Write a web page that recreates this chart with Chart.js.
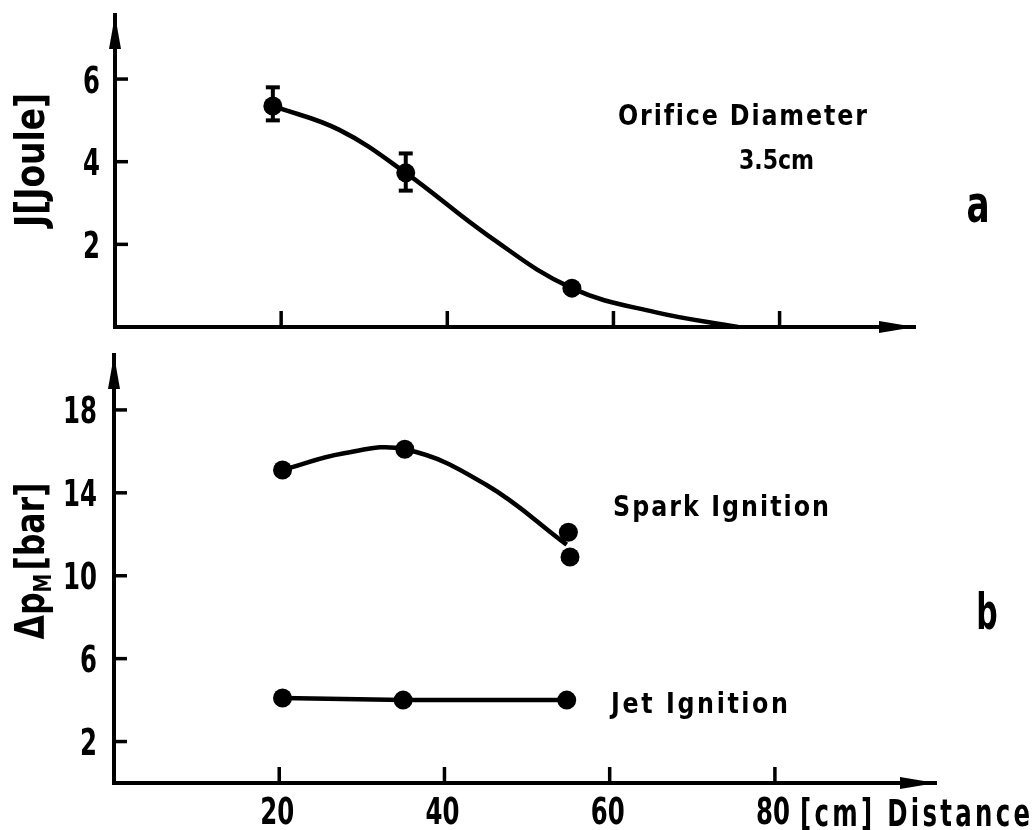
<!DOCTYPE html>
<html>
<head>
<meta charset="utf-8">
<script src="https://cdn.jsdelivr.net/npm/chart.js@4/dist/chart.umd.min.js"></script>
<style>
  body { margin: 0; background: #fff; }
  #wrap { position: relative; width: 1033px; height: 830px; }
  canvas { position: absolute; left: 0; }
  #chartA { top: 0; }
  #chartB { top: 345px; }
</style>
</head>
<body>
<div id="wrap">
  <canvas id="chartA" width="1033" height="345"></canvas>
  <canvas id="chartB" width="1033" height="485"></canvas>
</div>
<script>
// panel a: ignition energy against distance
const energyDist = [19, 35, 55];
const energyJ = [5.35, 3.73, 0.94];
const energyErrLow = [5.0, 3.3, null];
const energyErrHigh = [5.8, 4.2, null];
// hand drawn fit curve
const energyCurveDist = [19, 27, 35, 45, 55, 65, 75];
const energyCurveJ = [5.35, 4.77, 3.73, 2.2, 0.94, 0.36, 0];

// panel b: peak pressure against distance
const sparkDist = [20.4, 35.2, 55, 55.2];
const sparkP = [15.1, 16.1, 12.1, 10.9];
const sparkCurveDist = [20.4, 27.7, 35.2, 45, 54.8];
const sparkCurveP = [15.1, 15.9, 16.1, 14.4, 11.5];
const jetDist = [20.4, 35, 54.8];
const jetP = [4.1, 4.0, 4.0];

// tick labels
const distTicks = [20, 40, 60, 80];
const jTicks = [2, 4, 6];
const pTicks = [2, 6, 10, 14, 18];

const INK = '#000';
const FONT = "'DejaVu Sans', sans-serif";

function pts(xs, ys) {
  return xs.map((v, i) => ({ x: v, y: ys[i] }));
}

// narrow bold text; align 'left' | 'center' | 'right', centred on cap height
function narrowText(ctx, text, x, yMid, size, sx, align, width) {
  ctx.save();
  ctx.font = `bold ${size}px ${FONT}`;
  ctx.textBaseline = 'alphabetic';
  ctx.textAlign = align || 'left';
  ctx.translate(x, yMid + size * 0.365);
  ctx.scale(sx, 1);
  if (width) {
    const natural = ctx.measureText(text).width;
    const sp = (width / sx - natural) / Math.max(1, text.length - 1);
    ctx.letterSpacing = sp + 'px';
  }
  ctx.fillText(text, 0, 0);
  ctx.restore();
}

// inward tick marks, tick labels and arrow heads on both axes
function axisDecor(showXLabels, yLabelRight) {
  return {
    id: 'axisDecor',
    afterDraw(chart) {
      const { ctx, chartArea: a, scales: { x, y } } = chart;
      ctx.save();
      ctx.strokeStyle = INK;
      ctx.fillStyle = INK;
      ctx.lineWidth = 3.5;
      x.ticks.forEach(t => {
        const px = x.getPixelForValue(t.value);
        ctx.beginPath(); ctx.moveTo(px, a.bottom); ctx.lineTo(px, a.bottom - 16); ctx.stroke();
        if (showXLabels) narrowText(ctx, String(t.value), px - 2, a.bottom + 27, 37, 0.66, 'center');
      });
      y.ticks.forEach(t => {
        const py = y.getPixelForValue(t.value);
        ctx.beginPath(); ctx.moveTo(a.left, py); ctx.lineTo(a.left + 13, py); ctx.stroke();
        narrowText(ctx, String(t.value), yLabelRight, py, 37, 0.66, 'right');
      });
      // arrow up
      ctx.beginPath();
      ctx.moveTo(a.left, a.top);
      ctx.lineTo(a.left + 6, a.top + 34);
      ctx.lineTo(a.left - 6, a.top + 34);
      ctx.closePath(); ctx.fill();
      // arrow right
      ctx.beginPath();
      ctx.moveTo(a.right, a.bottom);
      ctx.lineTo(a.right - 36, a.bottom - 6);
      ctx.lineTo(a.right - 36, a.bottom + 6);
      ctx.closePath(); ctx.fill();
      ctx.restore();
    }
  };
}

const panelA = {
  id: 'panelA',
  afterDatasetsDraw(chart) {
    const { ctx, scales: { x, y } } = chart;
    ctx.save();
    ctx.strokeStyle = INK;
    ctx.lineWidth = 4;
    energyDist.forEach((d, i) => {
      if (energyErrLow[i] == null) return;
      const px = x.getPixelForValue(d);
      const hi = y.getPixelForValue(energyErrHigh[i]);
      const lo = y.getPixelForValue(energyErrLow[i]);
      ctx.beginPath(); ctx.moveTo(px, hi); ctx.lineTo(px, lo); ctx.stroke();
      ctx.beginPath(); ctx.moveTo(px - 7, hi); ctx.lineTo(px + 7, hi); ctx.stroke();
      ctx.beginPath(); ctx.moveTo(px - 7, lo); ctx.lineTo(px + 7, lo); ctx.stroke();
    });
    ctx.restore();
  },
  afterDraw(chart) {
    const ctx = chart.ctx;
    ctx.save();
    ctx.fillStyle = INK;
    narrowText(ctx, 'Orifice Diameter', 618, 115, 28, 0.85, 'left', 248);
    narrowText(ctx, '3.5cm', 739, 160, 26, 0.85, 'left', 75);
    narrowText(ctx, 'a', 978, 203, 52, 0.66, 'center');
    // y title, squeezed to its length
    ctx.translate(29, 160);
    ctx.rotate(-Math.PI / 2);
    ctx.font = `bold 40px ${FONT}`;
    const w = ctx.measureText('J[Joule]').width;
    narrowText(ctx, 'J[Joule]', 0, 0, 40, 134 / w, 'center');
    ctx.restore();
  }
};

const panelB = {
  id: 'panelB',
  afterDraw(chart) {
    const ctx = chart.ctx;
    ctx.save();
    ctx.fillStyle = INK;
    narrowText(ctx, 'Spark Ignition', 613, 161, 28, 0.85, 'left', 216);
    narrowText(ctx, 'Jet Ignition', 611, 358, 28, 0.85, 'left', 177);
    narrowText(ctx, '[cm] Distance', 800, 467, 37, 0.66, 'left', 230);
    narrowText(ctx, 'b', 987, 266, 50, 0.6, 'center');
    // y title with subscript, squeezed to its length
    ctx.translate(30, 216);
    ctx.rotate(-Math.PI / 2);
    ctx.textAlign = 'left';
    ctx.textBaseline = 'alphabetic';
    const big = `bold 40px ${FONT}`, small = `bold 24px ${FONT}`;
    ctx.font = big; const w1 = ctx.measureText('\u0394p').width;
    ctx.font = small; const w2 = ctx.measureText('M').width;
    ctx.font = big; const w3 = ctx.measureText('[bar]').width;
    const total = w1 + w2 + w3 + 4;
    ctx.scale(157 / total, 1);
    let cx = -total / 2;
    const base = 14;
    ctx.font = big; ctx.fillText('\u0394p', cx, base); cx += w1;
    ctx.font = small; ctx.fillText('M', cx, base + 7); cx += w2 + 4;
    ctx.font = big; ctx.fillText('[bar]', cx, base);
    ctx.restore();
  }
};

new Chart(document.getElementById('chartA'), {
  type: 'scatter',
  data: {
    datasets: [
      {
        data: pts(energyCurveDist, energyCurveJ),
        showLine: true,
        tension: 0.4,
        borderColor: INK,
        borderWidth: 4.5,
        pointRadius: 0,
        clip: false
      },
      {
        data: pts(energyDist, energyJ),
        showLine: false,
        pointRadius: 9.5,
        backgroundColor: INK,
        borderWidth: 0
      }
    ]
  },
  options: {
    responsive: false,
    animation: false,
    layout: { padding: { top: 15, right: 118, left: 0, bottom: 0 } },
    plugins: { legend: { display: false }, tooltip: { enabled: false } },
    scales: {
      x: {
        type: 'linear', min: 0, max: 96.3,
        afterBuildTicks: s => { s.ticks = distTicks.map(v => ({ value: v })); },
        afterFit: s => { s.height = 18; },
        ticks: { display: false },
        grid: { display: false },
        border: { display: true, color: INK, width: 4 }
      },
      y: {
        min: 0, max: 7.55,
        afterBuildTicks: s => { s.ticks = jTicks.map(v => ({ value: v })); },
        afterFit: s => { s.width = 115; },
        ticks: { display: false },
        grid: { display: false },
        border: { display: true, color: INK, width: 4 }
      }
    }
  },
  plugins: [axisDecor(false, 100), panelA]
});

new Chart(document.getElementById('chartB'), {
  type: 'scatter',
  data: {
    datasets: [
      {
        data: pts(sparkCurveDist, sparkCurveP),
        showLine: true,
        tension: 0.4,
        borderColor: INK,
        borderWidth: 4.5,
        pointRadius: 0
      },
      {
        data: pts(sparkDist, sparkP),
        showLine: false,
        pointRadius: 9.5,
        backgroundColor: INK,
        borderWidth: 0
      },
      {
        data: pts(jetDist, jetP),
        showLine: true,
        borderColor: INK,
        borderWidth: 4.5,
        pointRadius: 9.5,
        backgroundColor: INK,
        pointBorderWidth: 0
      }
    ]
  },
  options: {
    responsive: false,
    animation: false,
    layout: { padding: { top: 10, right: 97, left: 0, bottom: 0 } },
    plugins: { legend: { display: false }, tooltip: { enabled: false } },
    scales: {
      x: {
        type: 'linear', min: 0, max: 99.5,
        afterBuildTicks: s => { s.ticks = distTicks.map(v => ({ value: v })); },
        afterFit: s => { s.height = 47; },
        ticks: { display: false },
        grid: { display: false },
        border: { display: true, color: INK, width: 4 }
      },
      y: {
        min: 0, max: 20.65,
        afterBuildTicks: s => { s.ticks = pTicks.map(v => ({ value: v })); },
        afterFit: s => { s.width = 114; },
        ticks: { display: false },
        grid: { display: false },
        border: { display: true, color: INK, width: 4 }
      }
    }
  },
  plugins: [axisDecor(true, 97), panelB]
});
</script>
</body>
</html>
